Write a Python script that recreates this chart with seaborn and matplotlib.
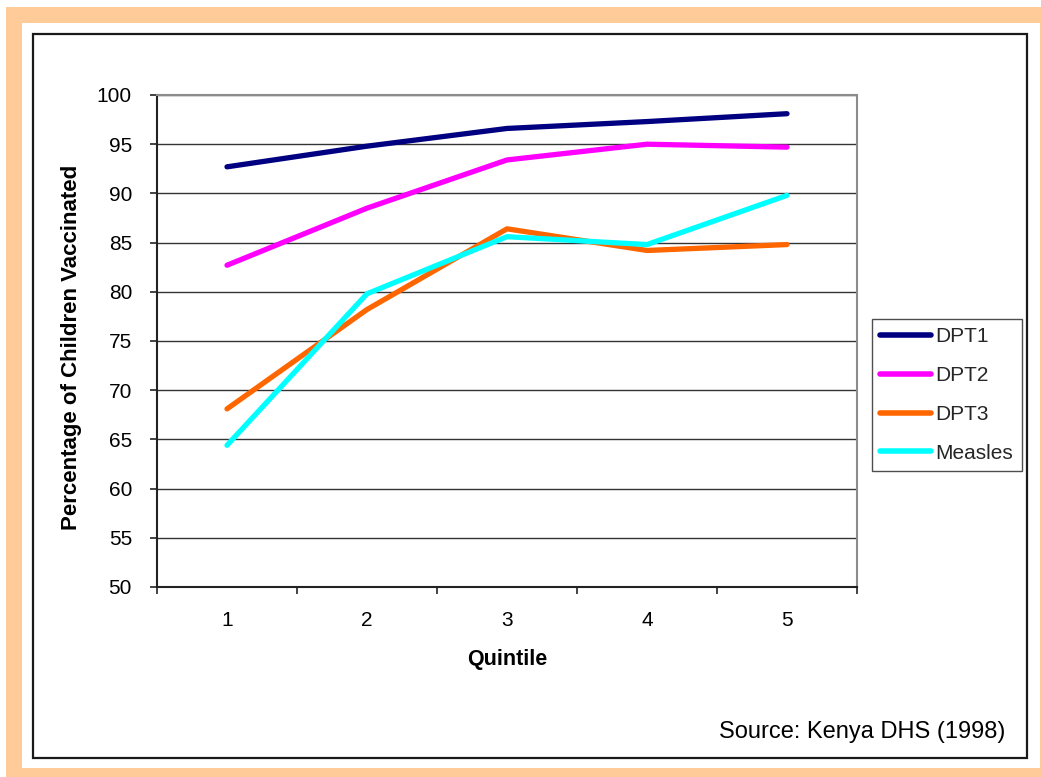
import matplotlib
matplotlib.use("Agg")
import matplotlib.pyplot as plt
from matplotlib.patches import Rectangle
import seaborn as sns
import pandas as pd

# Vaccination coverage by wealth quintile, Kenya DHS 1998
quintiles = [1, 2, 3, 4, 5]
dpt1 = [92.7, 94.8, 96.6, 97.3, 98.1]
dpt2 = [82.7, 88.5, 93.4, 95.0, 94.7]
dpt3 = [68.1, 78.2, 86.4, 84.2, 84.8]
measles = [64.4, 79.8, 85.6, 84.8, 89.8]

series_names = ["DPT1", "DPT2", "DPT3", "Measles"]
series_colors = ["#000080", "#FF00FF", "#FF6600", "#00FFFF"]
y_ticks = [50, 55, 60, 65, 70, 75, 80, 85, 90, 95, 100]

frames = []
for name, vals in zip(series_names, [dpt1, dpt2, dpt3, measles]):
    frames.append(pd.DataFrame({"Quintile": quintiles, "Value": vals, "Series": name}))
df = pd.concat(frames, ignore_index=True)

sns.set_theme(style="white")
plt.rcParams["font.family"] = ["Liberation Sans", "DejaVu Sans"]

W, H = 1041, 777
fig = plt.figure(figsize=(W / 100, H / 100), dpi=100)


def fx(px):
    return px / W


def fy(py):
    return 1 - py / H


# slide background: peach band with white panel and black frame
fig.patches.append(Rectangle((fx(6), 0), 1 - fx(6), fy(7), transform=fig.transFigure,
                             facecolor="#FFCC99", edgecolor="none", zorder=-3))
fig.patches.append(Rectangle((fx(22), fy(768)), fx(1040) - fx(22), fy(23) - fy(768),
                             transform=fig.transFigure, facecolor="white",
                             edgecolor="none", zorder=-2))
fig.patches.append(Rectangle((fx(33), fy(758)), fx(1027) - fx(33), fy(34) - fy(758),
                             transform=fig.transFigure, facecolor="none",
                             edgecolor="#1a1a1a", linewidth=1.6, zorder=-1))

ax = fig.add_axes([fx(157), fy(587), fx(857) - fx(157), fy(95) - fy(587)])
ax.set_facecolor("white")

sns.lineplot(data=df, x="Quintile", y="Value", hue="Series", hue_order=series_names,
             palette=series_colors, linewidth=3.8, sort=False, ax=ax, legend=True,
             solid_capstyle="round", zorder=3)

ax.set_xlim(0.5, 5.5)
ax.set_ylim(50, 100)
ax.set_yticks(y_ticks)
ax.set_yticklabels([str(v) for v in y_ticks])
ax.set_xticks(quintiles)
ax.set_xticklabels([str(q) for q in quintiles])
ax.set_xticks([0.5, 1.5, 2.5, 3.5, 4.5, 5.5], minor=True)

ax.yaxis.grid(True, color="#333333", linewidth=1.0)
ax.xaxis.grid(False)
ax.set_axisbelow(True)

ax.tick_params(axis="y", which="major", direction="out", length=5, width=1.2,
               color="#222222", labelsize=15, pad=13, left=True, labelcolor="black")
ax.tick_params(axis="x", which="major", length=0, labelsize=15, pad=17, labelcolor="black")
ax.tick_params(axis="x", which="minor", direction="out", length=5, width=1.2,
               color="#222222", bottom=True)

for side in ["left", "bottom"]:
    ax.spines[side].set_color("#222222")
    ax.spines[side].set_linewidth(1.5)
for side in ["top", "right"]:
    ax.spines[side].set_color("#8c8c8c")
    ax.spines[side].set_linewidth(1.5)

ax.set_xlabel("")
ax.set_ylabel("")
fig.text(fx(72), fy(347), "Percentage of Children Vaccinated", rotation=90,
         ha="center", va="center", fontsize=16, fontweight="bold", color="black")
fig.text(fx(507), fy(660), "Quintile", ha="center", va="center",
         fontsize=15.5, fontweight="bold", color="black")
fig.text(fx(1005), fy(732), "Source: Kenya DHS (1998)", ha="right", va="center",
         fontsize=17, color="black")

leg = ax.legend(loc="center left", bbox_to_anchor=(fx(872), fy(395)),
                bbox_transform=fig.transFigure, frameon=True, fancybox=False,
                fontsize=15, handlelength=2.45, handletextpad=0.2, labelspacing=0.95,
                borderpad=0.4, borderaxespad=0, title=None)
leg.get_frame().set_edgecolor("#222222")
leg.get_frame().set_linewidth(1.0)
for line in leg.get_lines():
    line.set_linewidth(4.0)
    line.set_solid_capstyle("round")

fig.savefig("out.png", dpi=100)
